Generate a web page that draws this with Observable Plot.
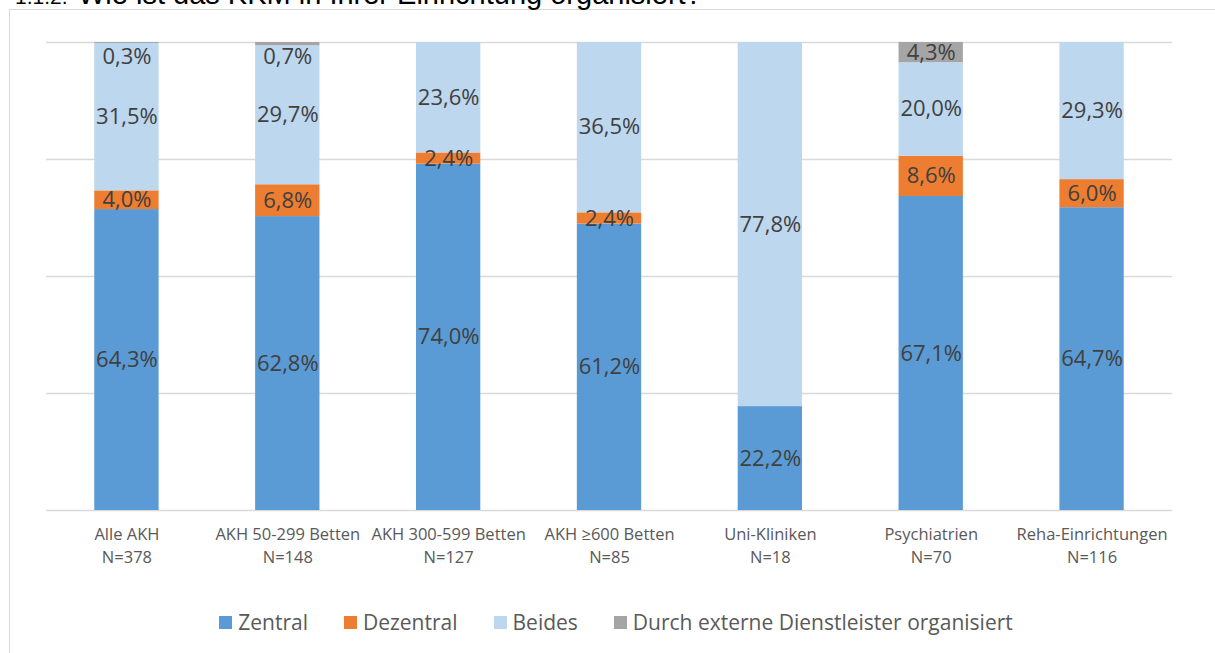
<!DOCTYPE html>
<html><head><meta charset="utf-8">
<script src="https://cdn.jsdelivr.net/npm/d3@7"></script>
<script src="https://cdn.jsdelivr.net/npm/@observablehq/plot@0.6"></script>
<style>
html,body{margin:0;padding:0;background:#fff;}
body{width:1215px;height:653px;position:relative;overflow:hidden;font-family:"Open Sans",sans-serif;}
#frame{position:absolute;left:9px;top:9px;width:1230px;height:680px;border:1.5px solid #d9d9d9;box-sizing:border-box;}
#title{position:absolute;left:15px;top:-20.5px;font-family:"Liberation Sans",Arial,sans-serif;font-size:29px;line-height:29px;color:#000;white-space:nowrap;}
#title .num{font-size:21px;display:inline-block;width:63px;}
#chart{position:absolute;left:0;top:0;}
#legend{position:absolute;left:0;top:608px;width:1232px;height:28px;display:flex;justify-content:center;align-items:center;font-family:"Open Sans",sans-serif;font-size:21px;color:#595959;}
.item{display:flex;align-items:center;margin:0 18px;}
.sw{width:13px;height:13px;margin-right:6px;}
</style>
</head><body>
<div id="frame"></div>
<div id="title"><span class="num">1.1.2.</span><span class="txt">Wie ist das KKM in Ihrer Einrichtung organisiert?</span></div>
<div id="chart"></div>
<div id="legend"></div>
<script>
const categories = ["Alle AKH","AKH 50-299 Betten","AKH 300-599 Betten","AKH ≥600 Betten","Uni-Kliniken","Psychiatrien","Reha-Einrichtungen"];
const nLabels = ["N=378","N=148","N=127","N=85","N=18","N=70","N=116"];
const series = ["Zentral","Dezentral","Beides","Durch externe Dienstleister organisiert"];
const colors = ["#5b9bd5","#ed7d31","#bdd7ee","#a5a5a5"];
const zentral   = [64.3, 62.8, 74.0, 61.2, 22.2, 67.1, 64.7];
const dezentral = [4.0, 6.8, 2.4, 2.4, 0, 8.6, 6.0];
const beides    = [31.5, 29.7, 23.6, 36.5, 77.8, 20.0, 29.3];
const extern    = [0.3, 0.7, 0, 0, 0, 4.3, 0];
const yTicks = [0, 25, 50, 75, 100];

const seriesValues = [zentral, dezentral, beides, extern];
const data = [];
categories.forEach((c, i) => {
  let base = 0;
  seriesValues.forEach((arr, s) => {
    const v = arr[i];
    if (v > 0) {
      const mid = base + v / 2;
      data.push({cat: c, series: series[s], value: v, y1: base, y2: base + v,
                 mid: v < 1 ? Math.min(mid, 97) : mid});
    }
    base += v;
  });
});

const fmt = v => v.toFixed(1).replace(".", ",") + "%";

const chart = Plot.plot({
  width: 1215,
  height: 580,
  marginTop: 42,
  marginBottom: 70,
  marginLeft: 46,
  marginRight: 43,
  style: {fontFamily: "Open Sans", background: "transparent"},
  x: {domain: categories, paddingInner: 0.6, paddingOuter: 0.3, round: false, label: null},
  y: {domain: [0, 100], clamp: true, axis: null},
  color: {domain: series, range: colors},
  marks: [
    Plot.ruleY(yTicks, {stroke: "#d9d9d9", strokeWidth: 1.5}),
    Plot.barY(data, {x: "cat", y1: "y1", y2: "y2", fill: "series"}),
    Plot.text(data, {x: "cat", y: "mid", text: d => fmt(d.value), fontSize: 22, fill: "#404040"}),
    Plot.axisX({tickSize: 0, tickPadding: 14, fontSize: 16.5, fill: "#595959", lineHeight: 1.35,
      tickFormat: d => d + "\n" + nLabels[categories.indexOf(d)], label: null})
  ]
});
document.getElementById("chart").appendChild(chart);

const legend = document.getElementById("legend");
series.forEach((s, i) => {
  const it = document.createElement("div");
  it.className = "item";
  it.innerHTML = `<div class="sw" style="background:${colors[i]}"></div><span>${s}</span>`;
  legend.appendChild(it);
});
</script>
</body></html>
